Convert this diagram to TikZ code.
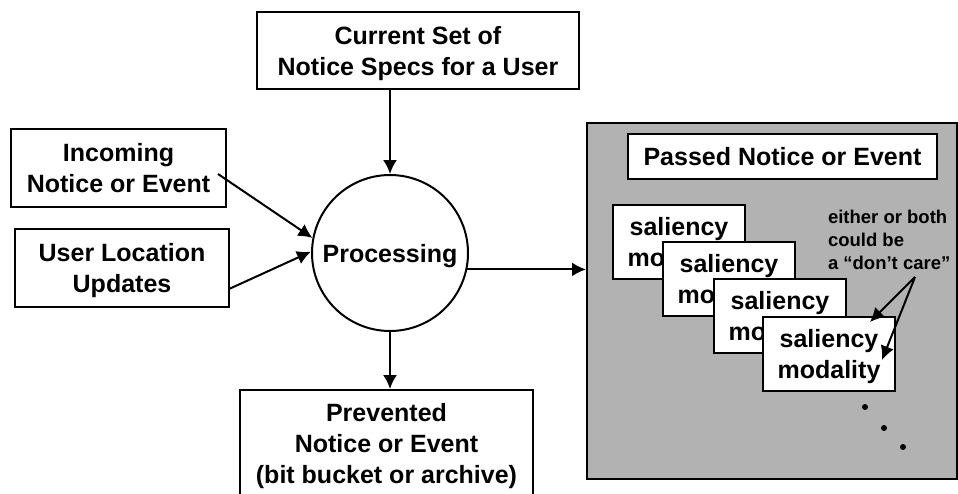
\documentclass[tikz,border=0pt]{standalone}
\usepackage{fontspec}
\setmainfont{Liberation Sans}
\usetikzlibrary{arrows.meta}
\definecolor{panelgray}{RGB}{178,178,178}
\begin{document}
\begin{tikzpicture}[x=1pt,y=-1pt, line width=2pt,
  box/.style={draw, fill=white, inner sep=0pt, align=center, text depth=-4pt, font=\bfseries\fontsize{25}{31}\selectfont},
  salbox/.style={box, minimum width=132pt, minimum height=74pt},
  arr/.style={-{Latex[length=14pt,width=14pt]}},
  notetext/.style={inner sep=0pt, align=left, font=\bfseries\fontsize{18.5}{23}\selectfont},
  dotmark/.style={fill=black},
]
\useasboundingbox (0,0) rectangle (958,493);
% left side
\node[box, minimum width=322pt, minimum height=77pt] (cur) at (418,50.5) {Current Set of\\Notice Specs for a User};
\node[box, minimum width=215pt, minimum height=78pt] (inc) at (118.5,168) {Incoming\\Notice or Event};
\node[box, minimum width=214pt, minimum height=78pt] (loc) at (122,268) {User Location\\Updates};
\node[box, circle, minimum size=156pt] (proc) at (390,253) {Processing};
\node[box, minimum width=293pt, minimum height=106pt] (prev) at (386.5,443) {Prevented\\Notice or Event\\(bit bucket or archive)};
% right panel
\node[draw, fill=panelgray, minimum width=370pt, minimum height=356pt, inner sep=0pt] (gray) at (772,301) {};
\node[box, minimum width=309pt, minimum height=45pt] (passed) at (782.5,156.5) {Passed Notice or Event};
\node[salbox] (s1) at (679,242) {saliency\\modality};
\node[salbox] (s2) at (729,279) {saliency\\modality};
\node[salbox] (s3) at (780,316) {saliency\\modality};
\node[salbox] (s4) at (829,354) {saliency\\modality};
\node[notetext, anchor=north west] (note) at (827,209) {either or both\\could be\\a “don’t care”};
% connectors
\coordinate (incout) at (218,174);
\coordinate (locout) at (229,289);
\draw[arr] (proc.north |- cur.south) -- (proc.north);
\draw[arr] (incout) -- (proc.169);
\draw[arr] (locout) -- (proc.179);
\draw[arr] (proc.-12.6) -- (proc.-12.6 -| gray.west);
\draw[arr] (proc.south) -- (proc.south |- prev.north);
\coordinate (notept) at (915,277);
\coordinate (tipA) at (870,322);
\coordinate (tipB) at (882,360);
\draw[arr] (notept) -- (tipA);
\draw[arr] (notept) -- (tipB);
% dots
\fill[dotmark] (865,407) circle (3pt);
\fill[dotmark] (884,428) circle (3pt);
\fill[dotmark] (903,447) circle (3pt);
\end{tikzpicture}
\end{document}
